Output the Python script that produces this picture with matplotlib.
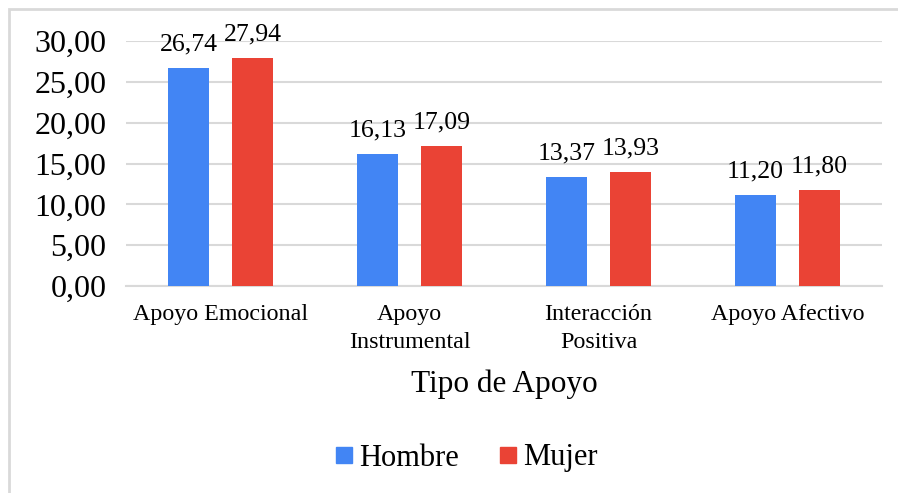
import matplotlib
matplotlib.use('Agg')
from matplotlib import pyplot as plt
from matplotlib.patches import Rectangle
import numpy as np

categories = ['Apoyo Emocional', 'Apoyo\nInstrumental', 'Interacción\nPositiva', 'Apoyo Afectivo']
hombre = [26.74, 16.13, 13.37, 11.20]
mujer = [27.94, 17.09, 13.93, 11.80]
series_names = ['Hombre', 'Mujer']
colors = ['#4285F4', '#EA4335']
yticks = [0, 5, 10, 15, 20, 25, 30]

plt.rcParams['font.family'] = ['Liberation Serif', 'DejaVu Serif']

W, H = 898, 493
fig = plt.figure(figsize=(W / 100, H / 100), dpi=100)
ax = fig.add_axes([126 / W, 1 - 286 / H, (882 - 126) / W, (286 - 41) / H])

# light border of the chart frame (only left/top visible, rest cropped)
fig.patches.append(Rectangle((9 / W, -0.05), 1.1, 1 - 9 / H + 0.05,
                             transform=fig.transFigure, fill=False,
                             edgecolor='#d9d9d9', linewidth=2))

x = np.arange(len(categories))
w = 0.217
off = 0.169
b1 = ax.bar(x - off, hombre, w, color=colors[0], label=series_names[0], zorder=3)
b2 = ax.bar(x + off, mujer, w, color=colors[1], label=series_names[1], zorder=3)

for bars, vals in [(b1, hombre), (b2, mujer)]:
	for rect, v in zip(bars, vals):
		ax.annotate('{:.2f}'.format(v).replace('.', ','),
			(rect.get_x() + rect.get_width() / 2, v),
			xytext=(0, 9), textcoords='offset points',
			ha='center', va='bottom', fontsize=18.5, zorder=4)

ax.set_xlim(-0.5, len(categories) - 0.5)
ax.set_ylim(0, 30)
ax.set_yticks(yticks)
ax.set_yticklabels(['{:.2f}'.format(t).replace('.', ',') for t in yticks], fontsize=23)
ax.set_xticks(x)
ax.set_xticklabels(categories, fontsize=17.3)
for lbl in ax.get_xticklabels():
	lbl.set_linespacing(1.45)
ax.tick_params(axis='both', length=0)
ax.tick_params(axis='x', pad=13)
ax.tick_params(axis='y', pad=14)
ax.grid(axis='y', color='#d9d9d9', linewidth=1.5, zorder=0)
for s in ['top', 'right', 'left']:
	ax.spines[s].set_visible(False)
ax.spines['bottom'].set_color('#d9d9d9')
ax.spines['bottom'].set_linewidth(1.5)
ax.spines['bottom'].set_zorder(2)

fig.text(504 / W, 1 - 384 / H, 'Tipo de Apoyo', fontsize=22.5, ha='center', va='center')

handles = [plt.Line2D([], [], marker='s', linestyle='', markersize=12, color=c) for c in colors]
fig.legend(handles, series_names, loc='center', bbox_to_anchor=(465 / W, 1 - 458 / H),
	ncol=2, frameon=False, fontsize=22, handletextpad=0.1, columnspacing=1.2,
	handlelength=0.8)

plt.savefig('out.png', dpi=100)
